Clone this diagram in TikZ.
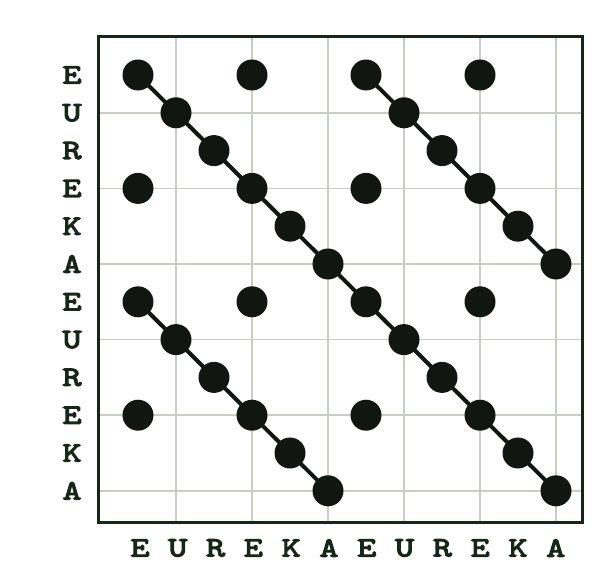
\documentclass[tikz,border=0pt]{standalone}
\usepackage{fontspec}
\newfontfamily\seqfont{lmmono10-regular}[Extension=.otf, FakeBold=4, FakeStretch=1.3]
\usepackage{xcolor}
\definecolor{framedark}{RGB}{22,38,24}
\definecolor{gridgray}{RGB}{200,206,198}
\definecolor{dotblack}{RGB}{18,22,18}

\begin{document}
\begin{tikzpicture}[x=1pt, y=-1pt,
      matchdot/.style={circle, fill=dotblack, inner sep=0pt, minimum size=31pt},
      seqlabel/.style={text=framedark, inner sep=0pt,
                       font=\fontsize{28}{28}\selectfont\seqfont},
      diag/.style={line width=4pt, draw=dotblack}
    ]
    \useasboundingbox (0,0) rectangle (602,585);

    % grid, every second letter
    \foreach \k in {2,4,...,12} {
      \draw[gridgray, line width=1.6pt] ({138+(\k-1)*38},37) -- ({138+(\k-1)*38},522);
      \draw[gridgray, line width=1.6pt] (98,{75+(\k-1)*37.8}) -- (582,{75+(\k-1)*37.8});
    }
    \draw[framedark, line width=3pt] (98,37) rectangle (582,522);

    % sequence along both axes
    \foreach \a [count=\i] in {E,U,R,E,K,A,E,U,R,E,K,A} {
      \node[seqlabel] (row-\i) at (72,{75+(\i-1)*37.8}) {\a};
      \node[seqlabel] (col-\i) at ({140+(\i-1)*37.8},548) {\a};
    }

    % a dot wherever the two letters agree
    \foreach \ca [count=\i] in {1,2,3,1,4,5,1,2,3,1,4,5} {
      \foreach \cb [count=\j] in {1,2,3,1,4,5,1,2,3,1,4,5} {
        \ifnum\ca=\cb
          \node[matchdot] (d-\i-\j) at ({138+(\j-1)*38},{75+(\i-1)*37.8}) {};
        \fi
      }
    }

    \draw[diag] (d-1-1.center) -- (d-12-12.center);
    \draw[diag] (d-1-7.center) -- (d-6-12.center);
    \draw[diag] (d-7-1.center) -- (d-12-6.center);
  \end{tikzpicture}
\end{document}
